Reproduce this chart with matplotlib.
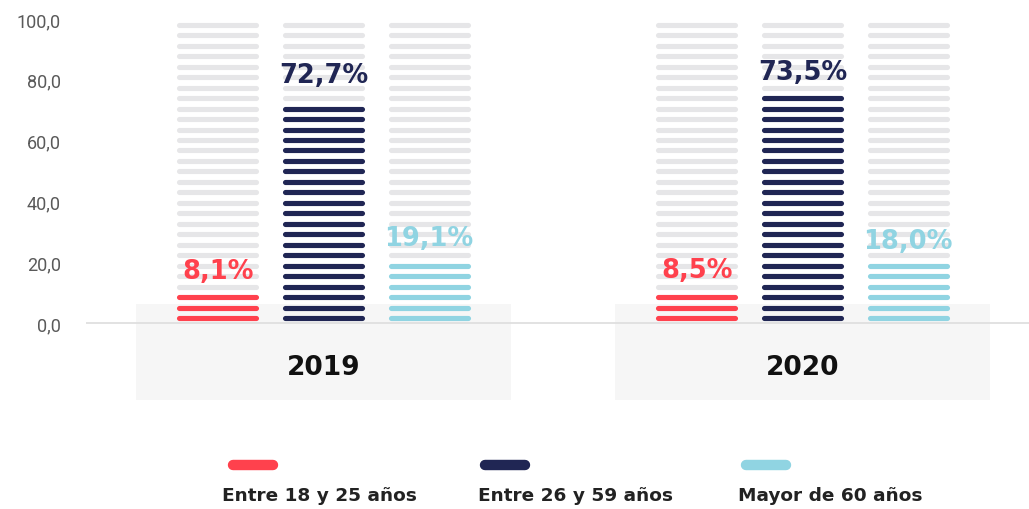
import matplotlib
matplotlib.use("Agg")
import matplotlib.pyplot as plt
from matplotlib.patches import Rectangle
import numpy as np

years = ["2019", "2020"]
series = ["Entre 18 y 25 años", "Entre 26 y 59 años", "Mayor de 60 años"]
values_2019 = [8.1, 72.7, 19.1]
values_2020 = [8.5, 73.5, 18.0]
labels_2019 = ["8,1%", "72,7%", "19,1%"]
labels_2020 = ["8,5%", "73,5%", "18,0%"]
yticks = [0, 20, 40, 60, 80, 100]
ytick_labels = ["0,0", "20,0", "40,0", "60,0", "80,0", "100,0"]

colors = ["#ff414d", "#202654", "#90d4e2"]
grey = "#e6e6e8"

W, H = 1029, 510
fig = plt.figure(figsize=(W / 100, H / 100), dpi=100)
ax = fig.add_axes([86 / W, 0, 1 - 86 / W, 1])

px_per_x = 479.0
x0_px = 323.5
xmin = (86 - x0_px) / px_per_x
xmax = (W - x0_px) / px_per_x
ax.set_xlim(xmin, xmax)
py = 3.04
ax.set_ylim(-(H - 324) / py, 324 / py)

for s in ax.spines.values():
    s.set_visible(False)
ax.set_xticks([])
ax.set_yticks(yticks)
ax.set_yticklabels(ytick_labels, fontfamily="Roboto", fontweight="normal",
                   fontsize=13, color="#5a5a5a")
ax.tick_params(axis="y", length=0, pad=18)

# grey boxes under groups
box_half = 0.3915
for gi in range(len(years)):
    ax.add_patch(Rectangle((gi - box_half, -25.3), 2 * box_half, 31.55,
                           facecolor="#f6f6f6", edgecolor="none", zorder=0))
    ax.text(gi, -14.5, years[gi], ha="center", va="center",
            fontsize=19, fontweight="bold", color="#111111",
            fontfamily="DejaVu Sans")

ax.axhline(0, color="#dddddd", lw=1.2, zorder=1)

offset = 0.2205
half = 0.0805
spacing = 3.45
first = 1.55
thick = 1.6
lw = 3.7
n_stripes = 29
stripe_centers = first + spacing * np.arange(n_stripes)

all_vals = [values_2019, values_2020]
all_labels = [labels_2019, labels_2020]
for gi in range(len(years)):
    for si in range(len(series)):
        xc = gi + (si - 1) * offset
        v = all_vals[gi][si]
        for yc in stripe_centers:
            filled = (yc - thick / 2) <= v + 0.05
            ax.plot([xc - half, xc + half], [yc, yc],
                    color=colors[si] if filled else grey,
                    lw=lw, solid_capstyle="round", zorder=2)
        ax.text(xc, v + 9.0, all_labels[gi][si], ha="center", va="center",
                fontsize=18.5, fontweight="bold", color=colors[si],
                fontfamily="DejaVu Sans", zorder=3)

# legend
leg_x = [228, 480, 741]
leg_text_x = [222, 478, 738]
for si in range(len(series)):
    xs = (leg_x[si] + 5 - x0_px) / px_per_x
    xe = (leg_x[si] + 45 - x0_px) / px_per_x
    yl = (324 - 466) / py
    ax.plot([xs, xe], [yl, yl], color=colors[si], lw=7.5,
            solid_capstyle="round", zorder=3)
    ax.text((leg_text_x[si] - x0_px) / px_per_x, (324 - 496) / py, series[si],
            ha="left", va="center", fontsize=13.3, fontweight="bold",
            color="#222222", fontfamily="DejaVu Sans")

fig.savefig("out.png", dpi=100)
